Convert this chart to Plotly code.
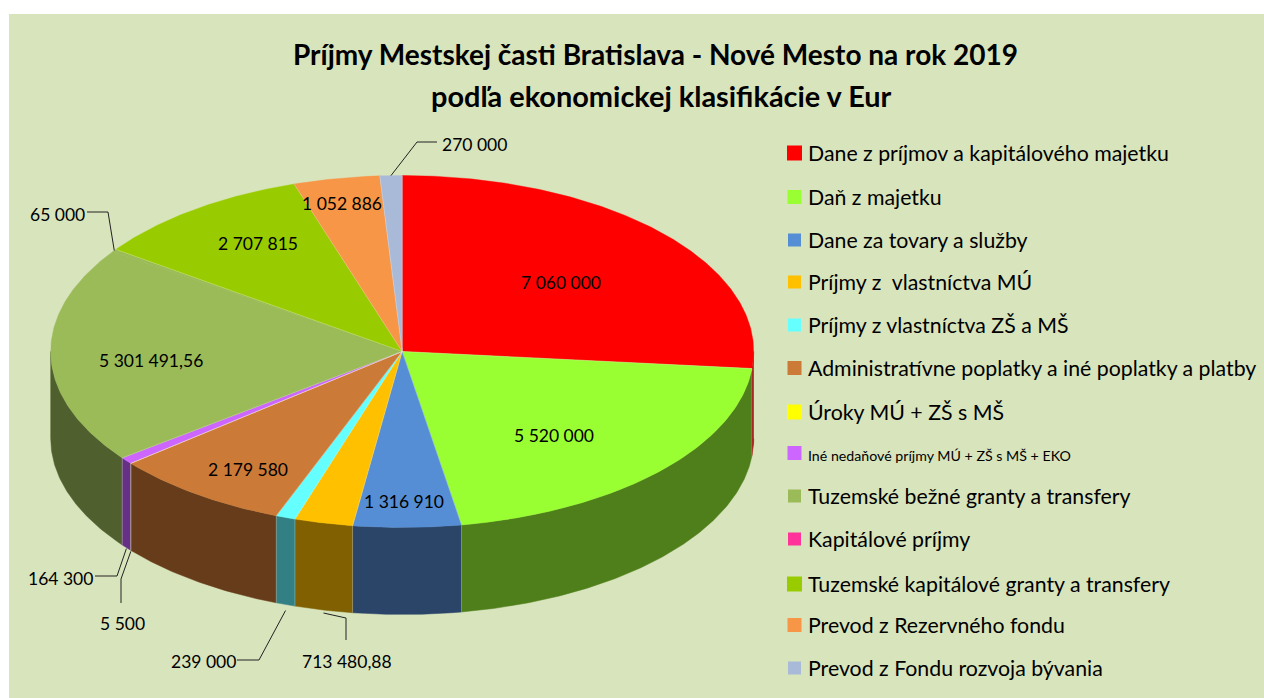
import numpy as np
import plotly.graph_objects as go

categories = [
    "Dane z príjmov a kapitálového majetku", "Daň z majetku", "Dane za tovary a služby",
    "Príjmy z  vlastníctva MÚ", "Príjmy z vlastníctva ZŠ a MŠ",
    "Administratívne poplatky a iné poplatky a platby", "Úroky MÚ + ZŠ s MŠ",
    "Iné nedaňové príjmy MÚ + ZŠ s MŠ + EKO", "Tuzemské bežné granty a transfery",
    "Kapitálové príjmy", "Tuzemské kapitálové granty a transfery",
    "Prevod z Rezervného fondu", "Prevod z Fondu rozvoja bývania",
]
values = [7060000, 5520000, 1316910, 713480.88, 239000, 2179580, 5500, 164300,
          5301491.56, 65000, 2707815, 1052886, 270000]
value_labels = ["7 060 000", "5 520 000", "1 316 910", "713 480,88", "239 000", "2 179 580",
                "5 500", "164 300", "5 301 491,56", "65 000", "2 707 815", "1 052 886", "270 000"]
colors = ["#FF0000", "#99FF33", "#558ED5", "#FFC000", "#66FFFF", "#CC7A38", "#FFFF00",
          "#CC66FF", "#9BBB59", "#FF3399", "#99CC00", "#F79646", "#A9BAD8"]
# colours on the pie's top face: the tiny Kapitálové slice does not show as pink in the pie
face_colors = ["#FF0000", "#99FF33", "#558ED5", "#FFC000", "#66FFFF", "#CC7A38", "#FFFF00",
               "#CC66FF", "#9BBB59", "#9BBB59", "#99CC00", "#F79646", "#A9BAD8"]
wall_colors = ["#A00000", "#4F7F1A", "#2B4569", "#806000", "#338084", "#663C1A", "#808000",
               "#663087", "#4F5F2D", "#801A4D", "#4D6600", "#7C4B23", "#55606C"]
title_lines = ["Príjmy Mestskej časti Bratislava - Nové Mesto na rok 2019",
               "podľa ekonomickej klasifikácie v Eur"]

W, H = 1264, 698
CX, CY, RX, RY, DEPTH = 402.2, 351.5, 351.5, 176.0, 87.0
FONT = "Lato, Carlito, Calibri, sans-serif"
LABEL_SIZE = 17.5
LEGEND_SIZE = 21.3
EDGE = "rgba(255,255,255,0.3)"

# pixel layout of text (label index -> centre)
inside_pos = {0: (561, 282), 1: (554, 435), 2: (404, 501), 5: (248, 469),
              8: (151, 360), 10: (258, 243), 11: (342, 203)}
# outside label: label anchor, x-anchor, elbow points from the slice to the text
outside = {
    12: ((440, 144), "left", [(417, 142), (437, 142)]),
    9: ((87, 214), "right", [(108, 212), (87, 212)]),
    7: ((95, 578), "right", [(117, 576), (95, 576)]),
    6: ((122, 623), "center", [(121, 579), (121, 603)]),
    4: ((238, 661), "right", [(259, 660), (237, 660)]),
    3: ((347, 661), "center", [(346, 618), (346, 640)]),
}
leader_gap = {12: 0, 9: 0, 7: 1, 6: 1, 4: 6, 3: 3}
legend_y = [153, 197, 240, 282, 325, 368, 412, 453, 496, 539, 584, 625, 668]
legend_size = [15, 14, 13, 13, 13, 14, 15, 14, 13, 13, 15, 14, 13]

total = sum(values)
edges = np.concatenate([[0], np.cumsum(values)]) / total * 2 * np.pi


def ex(t):
    return CX + RX * np.sin(t)


def ey(t):
    return CY - RY * np.cos(t)


fig = go.Figure()

# side walls: the visible front part of the rim
for i, (a, b) in enumerate(zip(edges[:-1], edges[1:])):
    lo, hi = max(a, np.pi / 2), min(b, 3 * np.pi / 2)
    if hi <= lo:
        continue
    t = np.linspace(lo, hi, max(int((hi - lo) * 120), 4))
    xs = np.concatenate([ex(t), ex(t[::-1])])
    ys = np.concatenate([ey(t), ey(t[::-1]) + DEPTH])
    fig.add_trace(go.Scatter(x=xs, y=ys, mode="lines", fill="toself", fillcolor=wall_colors[i],
                             line=dict(color=wall_colors[i], width=0.5),
                             hoverinfo="skip", showlegend=False))

# top face
for i, (a, b) in enumerate(zip(edges[:-1], edges[1:])):
    t = np.linspace(a, b, max(int((b - a) * 120), 4))
    xs = np.concatenate([[CX], ex(t), [CX]])
    ys = np.concatenate([[CY], ey(t), [CY]])
    fig.add_trace(go.Scatter(x=xs, y=ys, mode="lines", fill="toself", fillcolor=face_colors[i],
                             line=dict(color=face_colors[i], width=0.4), name=categories[i],
                             text=value_labels[i], hoverinfo="name+text", showlegend=False))

# faint seams between slices, on the top face and down the wall
seam_x, seam_y = [], []
for k, e in enumerate(edges[:-1]):
    if k == 9:  # same colour on both sides: no visible seam here
        continue
    seam_x += [CX, ex(e), None]
    seam_y += [CY, ey(e), None]
    if np.pi / 2 < e < 3 * np.pi / 2:
        seam_x += [ex(e), ex(e), None]
        seam_y += [ey(e), ey(e) + DEPTH, None]
fig.add_trace(go.Scatter(x=seam_x, y=seam_y, mode="lines", line=dict(color=EDGE, width=0.8),
                         hoverinfo="skip", showlegend=False))

# leader lines, starting from the middle of the slice's rim
for i, (pos, anchor, elbow) in outside.items():
    mid = (edges[i] + edges[i + 1]) / 2
    depth = DEPTH if np.pi / 2 < mid < 3 * np.pi / 2 else 0
    px = [ex(mid)] + [p[0] for p in elbow]
    py = [ey(mid) + depth + leader_gap[i]] + [p[1] for p in elbow]
    fig.add_trace(go.Scatter(x=px, y=py, mode="lines", line=dict(color="#222222", width=1),
                             hoverinfo="skip", showlegend=False))

# legend swatches
fig.add_trace(go.Scatter(x=[794.5] * len(categories), y=legend_y, mode="markers",
                         marker=dict(symbol="square", size=legend_size, color=colors,
                                     opacity=1, line=dict(width=0)),
                         hoverinfo="skip", showlegend=False))

annotations = []


def note(x, y, text, size, anchor="center", bold=False):
    annotations.append(dict(x=x, y=y, xref="x", yref="y", text=f"<b>{text}</b>" if bold else text,
                            showarrow=False, xanchor=anchor, yanchor="middle", align=anchor,
                            font=dict(family=FONT, size=size, color="#000000")))


note(655, 54, title_lines[0], 28, bold=True)
note(661, 95, title_lines[1], 28.9, bold=True)
for i, (x, y) in inside_pos.items():
    note(x, y, value_labels[i], LABEL_SIZE)
for i, (pos, anchor, _) in outside.items():
    note(pos[0], pos[1], value_labels[i], LABEL_SIZE, anchor)
for i, name in enumerate(categories):
    note(806, legend_y[i] + (2 if i == 7 else 0), name, 14.2 if i == 7 else LEGEND_SIZE, "left")

fig.update_layout(
    width=W, height=H, margin=dict(l=0, r=0, t=0, b=0, pad=0),
    paper_bgcolor="#FFFFFF", plot_bgcolor="rgba(0,0,0,0)",
    xaxis=dict(range=[0, W], visible=False, fixedrange=True),
    yaxis=dict(range=[H, 0], visible=False, fixedrange=True),
    annotations=annotations, showlegend=False,
    shapes=[dict(type="rect", xref="x", yref="y", x0=9, y0=14, x1=W, y1=H, layer="below",
                 fillcolor="#D8E4BC", line=dict(width=0))],
)
fig.write_html("out.html", config=dict(displayModeBar=False),
               post_script="document.body.style.margin='0';document.body.style.overflow='hidden';")
